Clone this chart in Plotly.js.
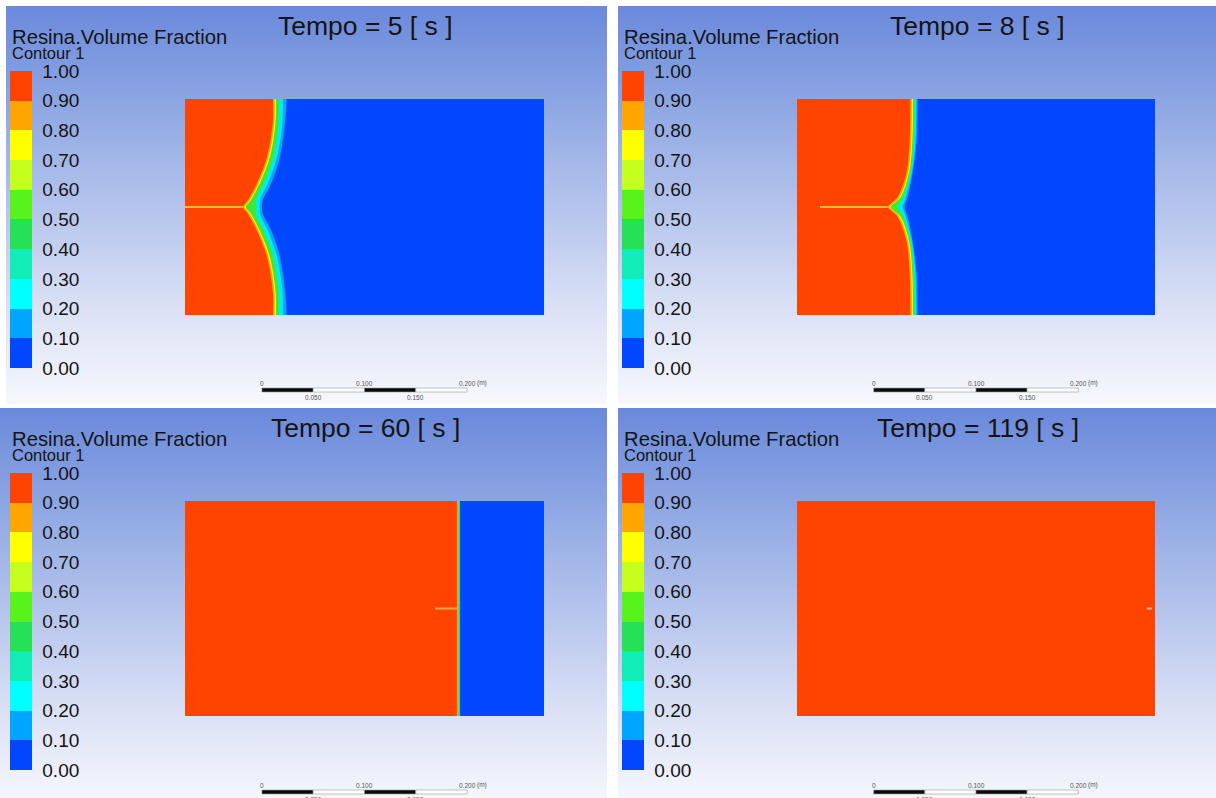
<!DOCTYPE html>
<html><head><meta charset="utf-8">
<script src="https://cdn.plot.ly/plotly-3.0.1.min.js"></script>
<style>
html,body{margin:0;padding:0;background:#fff;width:1216px;height:798px;overflow:hidden}
.bg{position:absolute;background-image:linear-gradient(to bottom,#6a89db 0%,#8ea7e3 25%,#b4c3ec 50%,#d9e0f5 75%,#f7f8fd 100%);background-repeat:no-repeat}
#chart{position:absolute;left:0;top:0;width:1216px;height:798px}
</style></head><body>
<div class="bg" style="left:6px;top:6px;width:601px;height:398px;background-size:100% 398px"></div>
<div class="bg" style="left:618px;top:6px;width:598px;height:398px;background-size:100% 398px"></div>
<div class="bg" style="left:0px;top:408px;width:607px;height:390px;background-size:100% 398px"></div>
<div class="bg" style="left:618px;top:408px;width:598px;height:390px;background-size:100% 398px"></div>
<div id="chart"></div>
<script>
// ---------------- data (mm) ----------------
const timeLabels = ['5', '8', '60', '119'];
const legendTicks = [0, 0.1, 0.2, 0.3, 0.4, 0.5, 0.6, 0.7, 0.8, 0.9, 1.0];
const legendLabels = ['0.00','0.10','0.20','0.30','0.40','0.50','0.60','0.70','0.80','0.90','1.00'];
const bandColors = ['#0047FF','#00A5FF','#00FFFF','#12EDB8','#26E058','#58F21C','#C6FF1C','#FFFF00','#FFA500','#FF4300'];
const contourLevels = [0.1, 0.3, 0.5, 0.7, 0.9];
const levelColors = ['#00A6FF','#00EEE6','#3DE83A','#FFF200','#FF4300'];

// 5 s
const frontY_5s = [210, 186.7, 153.6, 128.3, 111.8, 105, 98.2, 81.7, 56.4, 23.3, 0];
const x10_5s = [99.1, 97.5, 92.6, 84.3, 76.0, 75.0, 76.0, 84.3, 92.6, 97.5, 99.1];
const x30_5s = [95.5, 95.0, 89.7, 80.9, 73.1, 73.1, 73.1, 80.9, 89.7, 95.0, 95.5];
const x50_5s = [91.6, 91.1, 86.3, 77.0, 69.2, 69.2, 69.2, 77.0, 86.3, 91.1, 91.6];
const x70_5s = [88.7, 88.2, 82.8, 73.1, 64.3, 59.5, 64.3, 73.1, 82.8, 88.2, 88.7];
const x90_5s = [85.8, 85.5, 79.9, 70.2, 61.4, 56.5, 61.4, 70.2, 79.9, 85.5, 85.8];
const streak_5s = [0, 56.5];

// 8 s
const frontY_8s = [210, 170, 138, 114.7, 109.9, 105, 100.1, 95.3, 72, 40, 0];
const x10_8s = [117.9, 117.0, 113.1, 108.2, 106.5, 105.3, 106.5, 108.2, 113.1, 117.0, 117.9];
const x30_8s = [116.6, 115.8, 112.2, 106.5, 104.8, 103.0, 104.8, 106.5, 112.2, 115.8, 116.6];
const x50_8s = [114.9, 114.2, 111.0, 104.0, 101.5, 98.5, 101.5, 104.0, 111.0, 114.2, 114.9];
const x70_8s = [113.5, 112.8, 109.6, 101.5, 96.5, 91.5, 96.5, 101.5, 109.6, 112.8, 113.5];
const x90_8s = [110.8, 110.1, 106.9, 98.4, 93.6, 88.7, 93.6, 98.4, 106.9, 110.1, 110.8];
const streak_8s = [22.4, 88.7];

// 60 s
const frontY_60s = [210, 0];
const x10_60s = [268.3, 268.3];
const x30_60s = [267.8, 267.8];
const x50_60s = [267.2, 267.2];
const x70_60s = [266.3, 266.3];
const x90_60s = [265.1, 265.1];
const streak_60s = [243.7, 265.1];

// 119 s
const frontY_119s = [210, 0];
const x10_119s = [350, 350];
const x30_119s = [350, 350];
const x50_119s = [350, 350];
const x70_119s = [350, 350];
const x90_119s = [350, 350];
const streak_119s = [342, 347];

const domainW = 350, domainH = 210, midY = 105;
const scaleTicks = [0, 100, 200];
const scaleTicksLow = [50, 150];
const scaleOrigin = 75;

// ---------------- layout helpers ----------------
const W = 1216, H = 798;
const px = x => x / W, py = y => 1 - y / H;
const FONT = 'Liberation Sans, Arial, sans-serif';

const panels = [
  {t: timeLabels[0], fy: frontY_5s,  lv: [x10_5s, x30_5s, x50_5s, x70_5s, x90_5s], st: streak_5s, stc:'#FFC21A', ox: 0,   oy: 0,   rect: [185, 99, 544, 315]},
  {t: timeLabels[1], fy: frontY_8s,  lv: [x10_8s, x30_8s, x50_8s, x70_8s, x90_8s], st: streak_8s, stc:'#FFC21A', ox: 612, oy: 0,   rect: [797, 99, 1155, 315]},
  {t: timeLabels[2], fy: frontY_60s, lv: [x10_60s, x30_60s, x50_60s, x70_60s, x90_60s], st: streak_60s, stc:'#FFA64D', ox: 0,   oy: 402, rect: [185, 501, 544, 716]},
  {t: timeLabels[3], fy: frontY_119s,lv: [x10_119s, x30_119s, x50_119s, x70_119s, x90_119s], st: streak_119s, stc:'#FFB89A', ox: 612, oy: 402, rect: [797, 501, 1155, 716]}
];

const cs = [];
bandColors.forEach((c, k) => { cs.push([k / 10, c]); cs.push([(k + 1) / 10, c]); });

const traces = [], annotations = [], shapes = [];
const layout = {
  width: W, height: H, margin: {l: 0, r: 0, t: 0, b: 0},
  paper_bgcolor: 'rgba(0,0,0,0)', plot_bgcolor: 'rgba(0,0,0,0)',
  showlegend: false, font: {family: FONT}
};

panels.forEach((p, i) => {
  const s = i === 0 ? '' : String(i + 1);
  const xa = 'x' + s, ya = 'y' + s;
  layout['xaxis' + s] = {domain: [px(p.rect[0]), px(p.rect[2])], range: [0, domainW], visible: false, fixedrange: true, anchor: ya};
  layout['yaxis' + s] = {domain: [py(p.rect[3]), py(p.rect[1])], range: [0, domainH], visible: false, fixedrange: true, anchor: xa};

  // base field (volume fraction ~0) carrying the legend colour bar
  traces.push({
    type: 'heatmap', x: [0, domainW], y: [0, domainH], z: [[0.05]],
    zmin: 0, zmax: 1, colorscale: cs, zsmooth: false, hoverinfo: 'skip',
    xaxis: xa, yaxis: ya, showscale: true,
    colorbar: {
      x: px(10 + p.ox), xanchor: 'left', xref: 'paper', xpad: 0,
      y: py(71 + p.oy), yanchor: 'top', yref: 'paper', ypad: 0,
      len: 297, lenmode: 'pixels', thickness: 22, thicknessmode: 'pixels',
      outlinewidth: 0, bgcolor: 'rgba(0,0,0,0)',
      tickmode: 'array', tickvals: legendTicks, ticktext: legendLabels,
      ticks: 'outside', ticklen: 7, tickcolor: 'rgba(0,0,0,0)',
      tickfont: {family: FONT, size: 19, color: '#141414'}
    }
  });

  const curved = p.fy.length > 2;
  const shape = curved ? 'spline' : 'linear';
  // contour level regions (value above each level lies left of the front);
  // the front is continued straight past the walls so the curve meets them squarely (outside part is clipped)
  contourLevels.forEach((lvl, k) => {
    const f = p.lv[k], n = f.length;
    const xs = [-20, f[0]].concat(f, [f[n - 1], -20]);
    const ys = [domainH + 60, domainH + 60].concat(p.fy, [-60, -60]);
    if (k === contourLevels.length - 1) {
      // thin orange 0.8-0.9 band along the red edge
      traces.push({type: 'scatter', mode: 'lines', x: [f[0]].concat(f, [f[n - 1]]), y: [domainH + 60].concat(p.fy, [-60]),
        xaxis: xa, yaxis: ya, line: {color: bandColors[8], width: 3, shape: shape, smoothing: 1}, hoverinfo: 'skip'});
    }
    traces.push({type: 'scatter', mode: 'lines', x: xs, y: ys, fill: 'toself',
      fillcolor: levelColors[k], line: {width: 0, color: levelColors[k], shape: shape, smoothing: 1},
      xaxis: xa, yaxis: ya, hoverinfo: 'skip'});
  });

  // resin streak along the centreline
  traces.push({type: 'scatter', mode: 'lines', x: p.st, y: [midY, midY], xaxis: xa, yaxis: ya,
    line: {color: p.stc, width: 2}, hoverinfo: 'skip'});

  // titles
  annotations.push({xref: 'paper', yref: 'paper', x: px(365.5 + p.ox), y: py(26 + p.oy), xanchor: 'center', yanchor: 'middle',
    text: 'Tempo = ' + p.t + ' [ s ]', showarrow: false, borderpad: 0, font: {family: FONT, size: 26.5, color: '#141414'}});
  annotations.push({xref: 'paper', yref: 'paper', x: px(11 + p.ox), y: py(37 + p.oy), xanchor: 'left', yanchor: 'middle',
    text: 'Resina.Volume Fraction', showarrow: false, borderpad: 0, font: {family: FONT, size: 20.3, color: '#141414'}});
  annotations.push({xref: 'paper', yref: 'paper', x: px(11 + p.ox), y: py(53 + p.oy), xanchor: 'left', yanchor: 'middle',
    text: 'Contour 1', showarrow: false, borderpad: 0, font: {family: FONT, size: 16.5, color: '#141414'}});

  // scale bar (0 - 0.200 m), drawn in domain units
  const barTop = py(388 + p.oy), barBot = py(392 + p.oy);
  for (let k = 0; k < 4; k++) {
    const a = scaleOrigin + k * 50, b = a + 50;
    shapes.push({type: 'rect', xref: xa, yref: 'paper', x0: a, x1: b, y0: barBot, y1: barTop,
      fillcolor: k % 2 === 0 ? '#0a0a0a' : '#ffffff', line: {color: '#9a9a9a', width: 0.6}, layer: 'above'});
  }
  scaleTicks.forEach(v => {
    annotations.push({xref: xa, yref: 'paper', x: scaleOrigin + v, y: py(383 + p.oy), xanchor: 'center', yanchor: 'middle',
      text: v === 0 ? '0' : (v / 1000).toFixed(3), showarrow: false, borderpad: 0, font: {family: FONT, size: 6.5, color: '#555'}});
  });
  annotations.push({xref: xa, yref: 'paper', x: scaleOrigin + 200 + 9, y: py(383 + p.oy), xanchor: 'left', yanchor: 'middle',
    text: '(m)', showarrow: false, borderpad: 0, font: {family: FONT, size: 6.5, color: '#555'}});
  scaleTicksLow.forEach(v => {
    annotations.push({xref: xa, yref: 'paper', x: scaleOrigin + v, y: py(397 + p.oy), xanchor: 'center', yanchor: 'middle',
      text: (v / 1000).toFixed(3), showarrow: false, borderpad: 0, font: {family: FONT, size: 6.5, color: '#555'}});
  });
});

layout.annotations = annotations;
layout.shapes = shapes;
Plotly.newPlot('chart', traces, layout, {staticPlot: true, displayModeBar: false});
</script>
</body></html>
